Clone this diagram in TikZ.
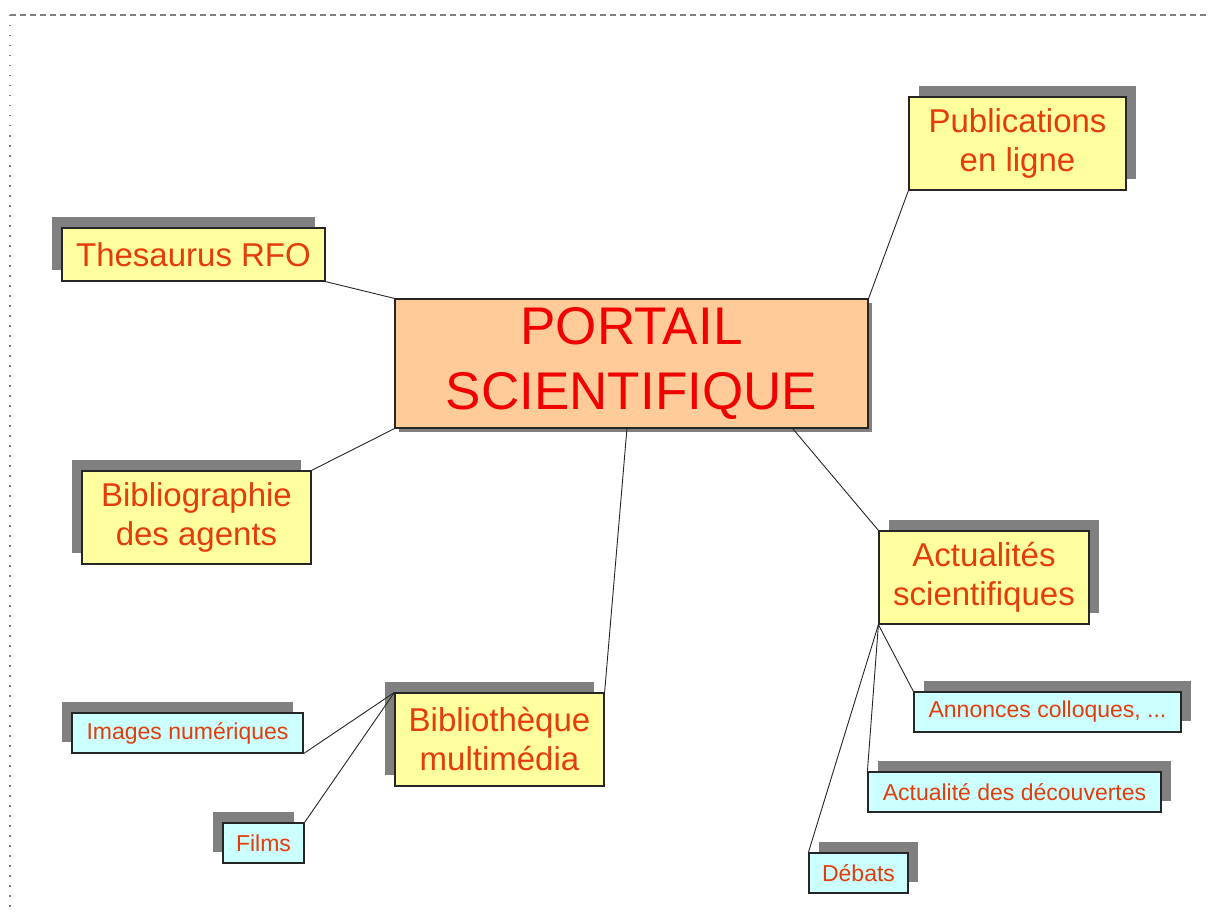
\documentclass[tikz,border=0pt]{standalone}
\usepackage{fontspec}
\setmainfont{Liberation Sans}
\usepackage{tikz}
\usetikzlibrary{shadows}
\definecolor{boxyellow}{RGB}{255,255,160}
\definecolor{boxpeach}{RGB}{255,204,153}
\definecolor{boxcyan}{RGB}{204,255,255}
\definecolor{shadowgray}{RGB}{128,128,128}
\definecolor{labelred}{RGB}{228,60,10}
\definecolor{titlered}{RGB}{240,0,0}
\tikzset{
    link/.style={draw=black!85, line width=0.9pt},
    box/.style = {
      rectangle,
      draw=black!85,
      line width=1.2pt,
      fill=boxyellow,
      text=labelred,
      align=center,
      inner sep=0pt,
      font=\fontsize{33}{39}\selectfont
    },
    smallbox/.style = {
      box,
      fill=boxcyan,
      minimum height=40pt,
      font=\fontsize{23}{28}\selectfont
    },
    bigbox/.style = {
      box,
      fill=boxpeach,
      text=titlered,
      font=\fontsize{53}{65}\selectfont,
      general shadow={fill=shadowgray, shadow xshift=4pt, shadow yshift=-4pt}
    },
    shadowleft/.style = {
      general shadow={fill=shadowgray, shadow xshift=-10pt, shadow yshift=11pt}
    },
    shadowright/.style = {
      general shadow={fill=shadowgray, shadow xshift=10pt, shadow yshift=11pt}
    },
}
\begin{document}
\begin{tikzpicture}[x=1pt, y=-1pt]
      \useasboundingbox (0,0) rectangle (1209,915);
      \draw[shadowgray, line width=1.5pt, dash pattern=on 6pt off 4pt] (10,15) -- (1208,15);
      \draw[shadowgray, line width=1.5pt, dash pattern=on 1.5pt off 8.5pt] (10,15) -- (10,915);

      \node[bigbox, minimum width=473pt, minimum height=129pt] (portail) at (631.5,363.5) {PORTAIL\\SCIENTIFIQUE};

      \node[box, shadowleft, minimum width=263pt, minimum height=53pt] (thesaurus) at (193.5,254.5) {Thesaurus RFO};
      \node[box, shadowright, minimum width=217pt, minimum height=93pt] (publications) at (1017.5,143.5) {Publications\\en ligne};
      \node[box, shadowleft, minimum width=229pt, minimum height=93pt] (bibliographie) at (196.5,517.5) {Bibliographie\\des agents};
      \node[box, shadowright, minimum width=210pt, minimum height=93pt] (actualites) at (984,577.5) {Actualités\\scientifiques};
      \node[box, shadowleft, minimum width=209pt, minimum height=93pt] (multimedia) at (499.5,739.5) {Bibliothèque\\multimédia};

      \node[smallbox, shadowleft, minimum width=231pt] (images) at (187.5,733) {Images numériques};
      \node[smallbox, shadowleft, minimum width=81pt] (films) at (263.5,843) {Films};
      \node[smallbox, shadowright, minimum width=267pt] (colloques) at (1047.5,712) {Annonces colloques, ...};
      \node[smallbox, shadowright, minimum width=293pt] (decouvertes) at (1014.5,792) {Actualité des découvertes};
      \node[smallbox, shadowright, minimum width=99pt] (debats) at (858.5,873) {Débats};

      \draw[link] (thesaurus.south east) -- (portail.north west);
      \draw[link] (publications.south west) -- (portail.north east);
      \draw[link] (bibliographie.north east) -- (portail.south west);
      \draw[link] (actualites.north west) -- (portail.-22);
      \draw[link] (multimedia.north east) -- (portail.-94);

      \draw[link] (images.south east) -- (multimedia.north west);
      \draw[link] (films.north east) -- (multimedia.north west);

      \draw[link] (actualites.south west) -- (colloques.north west);
      \draw[link] (actualites.south west) -- (decouvertes.north west);
      \draw[link] (actualites.south west) -- (debats.north west);
\end{tikzpicture}
\end{document}
